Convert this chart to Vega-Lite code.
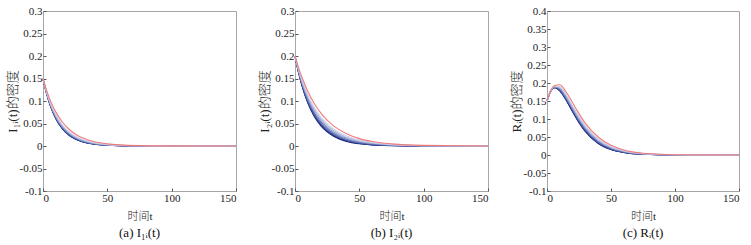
{
"$schema": "https://vega.github.io/schema/vega-lite/v6.json",
"background": "white",
"padding": {"left": 5, "top": 4, "right": 4, "bottom": 2},
"spacing": 59,
"bounds": "flush",
"config": {
 "locale": {"number": {"decimal": ".", "thousands": ",", "grouping": [3], "currency": ["$", ""], "minus": "-"}},
 "view": {"stroke": "#a6a6a6", "strokeWidth": 1},
 "axis": {"grid": false, "domain": false, "tickColor": "#555", "tickSize": -3, "labelPadding": 4, "labelFont": "Liberation Serif", "labelFontSize": 11, "labelColor": "#222", "titleFont": "Liberation Serif, Noto Sans CJK SC", "titleFontWeight": 300, "titleColor": "#222", "titleFontSize": 12},
 "axisY": {"minExtent": 20, "maxExtent": 20, "titlePadding": 4, "titleFontSize": 13},
 "axisX": {"labelPadding": 4, "titlePadding": 7, "titleFontSize": 11},
 "title": {"font": "Liberation Serif", "fontSize": 13, "fontWeight": "normal", "color": "#111", "offset": 6},
 "line": {"strokeWidth": 1.1, "interpolate": "monotone"}
},
"datasets": {
"a": [
{"t":0,"c":"c1","v":0.15},{"t":3,"c":"c1","v":0.1142},{"t":6,"c":"c1","v":0.0869},{"t":10,"c":"c1","v":0.0604},{"t":15,"c":"c1","v":0.0384},{"t":20,"c":"c1","v":0.0243},{"t":25,"c":"c1","v":0.0155},{"t":30,"c":"c1","v":0.0098},{"t":40,"c":"c1","v":0.004},{"t":50,"c":"c1","v":0.0016},{"t":60,"c":"c1","v":0.0006},{"t":75,"c":"c1","v":0.0002},{"t":100,"c":"c1","v":0},{"t":150,"c":"c1","v":0},
{"t":0,"c":"c2","v":0.15},{"t":3,"c":"c2","v":0.1145},{"t":6,"c":"c2","v":0.0874},{"t":10,"c":"c2","v":0.061},{"t":15,"c":"c2","v":0.039},{"t":20,"c":"c2","v":0.0248},{"t":25,"c":"c2","v":0.0159},{"t":30,"c":"c2","v":0.0102},{"t":40,"c":"c2","v":0.0042},{"t":50,"c":"c2","v":0.0017},{"t":60,"c":"c2","v":0.0007},{"t":75,"c":"c2","v":0.0002},{"t":100,"c":"c2","v":0},{"t":150,"c":"c2","v":0},
{"t":0,"c":"c3","v":0.15},{"t":3,"c":"c3","v":0.1149},{"t":6,"c":"c3","v":0.088},{"t":10,"c":"c3","v":0.0617},{"t":15,"c":"c3","v":0.0397},{"t":20,"c":"c3","v":0.0255},{"t":25,"c":"c3","v":0.0165},{"t":30,"c":"c3","v":0.0106},{"t":40,"c":"c3","v":0.0045},{"t":50,"c":"c3","v":0.0019},{"t":60,"c":"c3","v":0.0008},{"t":75,"c":"c3","v":0.0003},{"t":100,"c":"c3","v":0},{"t":150,"c":"c3","v":0},
{"t":0,"c":"c4","v":0.15},{"t":3,"c":"c4","v":0.1154},{"t":6,"c":"c4","v":0.0887},{"t":10,"c":"c4","v":0.0626},{"t":15,"c":"c4","v":0.0406},{"t":20,"c":"c4","v":0.0263},{"t":25,"c":"c4","v":0.0172},{"t":30,"c":"c4","v":0.0112},{"t":40,"c":"c4","v":0.0048},{"t":50,"c":"c4","v":0.0021},{"t":60,"c":"c4","v":0.0009},{"t":75,"c":"c4","v":0.0003},{"t":100,"c":"c4","v":0},{"t":150,"c":"c4","v":0},
{"t":0,"c":"c5","v":0.15},{"t":3,"c":"c5","v":0.116},{"t":6,"c":"c5","v":0.0897},{"t":10,"c":"c5","v":0.0638},{"t":15,"c":"c5","v":0.0418},{"t":20,"c":"c5","v":0.0274},{"t":25,"c":"c5","v":0.0181},{"t":30,"c":"c5","v":0.0119},{"t":40,"c":"c5","v":0.0053},{"t":50,"c":"c5","v":0.0023},{"t":60,"c":"c5","v":0.001},{"t":75,"c":"c5","v":0.0004},{"t":100,"c":"c5","v":0},{"t":150,"c":"c5","v":0},
{"t":0,"c":"c6","v":0.15},{"t":3,"c":"c6","v":0.1168},{"t":6,"c":"c6","v":0.091},{"t":10,"c":"c6","v":0.0653},{"t":15,"c":"c6","v":0.0433},{"t":20,"c":"c6","v":0.0288},{"t":25,"c":"c6","v":0.0192},{"t":30,"c":"c6","v":0.0128},{"t":40,"c":"c6","v":0.0058},{"t":50,"c":"c6","v":0.0027},{"t":60,"c":"c6","v":0.0012},{"t":75,"c":"c6","v":0.0004},{"t":100,"c":"c6","v":0.0001},{"t":150,"c":"c6","v":0},
{"t":0,"c":"c7","v":0.15},{"t":3,"c":"c7","v":0.1177},{"t":6,"c":"c7","v":0.0924},{"t":10,"c":"c7","v":0.0671},{"t":15,"c":"c7","v":0.0451},{"t":20,"c":"c7","v":0.0304},{"t":25,"c":"c7","v":0.0205},{"t":30,"c":"c7","v":0.0139},{"t":40,"c":"c7","v":0.0065},{"t":50,"c":"c7","v":0.003},{"t":60,"c":"c7","v":0.0014},{"t":75,"c":"c7","v":0.0005},{"t":100,"c":"c7","v":0.0001},{"t":150,"c":"c7","v":0},
{"t":0,"c":"c8","v":0.15},{"t":3,"c":"c8","v":0.1189},{"t":6,"c":"c8","v":0.0943},{"t":10,"c":"c8","v":0.0693},{"t":15,"c":"c8","v":0.0473},{"t":20,"c":"c8","v":0.0324},{"t":25,"c":"c8","v":0.0222},{"t":30,"c":"c8","v":0.0153},{"t":40,"c":"c8","v":0.0073},{"t":50,"c":"c8","v":0.0035},{"t":60,"c":"c8","v":0.0017},{"t":75,"c":"c8","v":0.0006},{"t":100,"c":"c8","v":0.0001},{"t":150,"c":"c8","v":0},
{"t":0,"c":"red","v":0.15},{"t":3,"c":"red","v":0.122},{"t":6,"c":"red","v":0.0992},{"t":10,"c":"red","v":0.0753},{"t":15,"c":"red","v":0.0533},{"t":20,"c":"red","v":0.0378},{"t":25,"c":"red","v":0.0267},{"t":30,"c":"red","v":0.0189},{"t":40,"c":"red","v":0.0095},{"t":50,"c":"red","v":0.0048},{"t":60,"c":"red","v":0.0024},{"t":75,"c":"red","v":0.0009},{"t":100,"c":"red","v":0.0002},{"t":150,"c":"red","v":0}
],
"b": [
{"t":0,"c":"c1","v":0.2},{"t":3,"c":"c1","v":0.1601},{"t":6,"c":"c1","v":0.1282},{"t":10,"c":"c1","v":0.0954},{"t":15,"c":"c1","v":0.0658},{"t":20,"c":"c1","v":0.0455},{"t":25,"c":"c1","v":0.0314},{"t":30,"c":"c1","v":0.0217},{"t":40,"c":"c1","v":0.0103},{"t":50,"c":"c1","v":0.0049},{"t":60,"c":"c1","v":0.0023},{"t":75,"c":"c1","v":0.0008},{"t":100,"c":"c1","v":0.0001},{"t":150,"c":"c1","v":0},
{"t":0,"c":"c2","v":0.2},{"t":3,"c":"c2","v":0.1607},{"t":6,"c":"c2","v":0.1292},{"t":10,"c":"c2","v":0.0967},{"t":15,"c":"c2","v":0.0672},{"t":20,"c":"c2","v":0.0469},{"t":25,"c":"c2","v":0.0327},{"t":30,"c":"c2","v":0.0228},{"t":40,"c":"c2","v":0.0111},{"t":50,"c":"c2","v":0.0055},{"t":60,"c":"c2","v":0.0027},{"t":75,"c":"c2","v":0.001},{"t":100,"c":"c2","v":0.0002},{"t":150,"c":"c2","v":0},
{"t":0,"c":"c3","v":0.2},{"t":3,"c":"c3","v":0.1614},{"t":6,"c":"c3","v":0.1304},{"t":10,"c":"c3","v":0.0982},{"t":15,"c":"c3","v":0.069},{"t":20,"c":"c3","v":0.0486},{"t":25,"c":"c3","v":0.0342},{"t":30,"c":"c3","v":0.0242},{"t":40,"c":"c3","v":0.0121},{"t":50,"c":"c3","v":0.0062},{"t":60,"c":"c3","v":0.0031},{"t":75,"c":"c3","v":0.0012},{"t":100,"c":"c3","v":0.0002},{"t":150,"c":"c3","v":0},
{"t":0,"c":"c4","v":0.2},{"t":3,"c":"c4","v":0.1624},{"t":6,"c":"c4","v":0.132},{"t":10,"c":"c4","v":0.1003},{"t":15,"c":"c4","v":0.0713},{"t":20,"c":"c4","v":0.0508},{"t":25,"c":"c4","v":0.0363},{"t":30,"c":"c4","v":0.0261},{"t":40,"c":"c4","v":0.0135},{"t":50,"c":"c4","v":0.0071},{"t":60,"c":"c4","v":0.0038},{"t":75,"c":"c4","v":0.0015},{"t":100,"c":"c4","v":0.0003},{"t":150,"c":"c4","v":0},
{"t":0,"c":"c5","v":0.2},{"t":3,"c":"c5","v":0.1636},{"t":6,"c":"c5","v":0.134},{"t":10,"c":"c5","v":0.1029},{"t":15,"c":"c5","v":0.0741},{"t":20,"c":"c5","v":0.0536},{"t":25,"c":"c5","v":0.0389},{"t":30,"c":"c5","v":0.0283},{"t":40,"c":"c5","v":0.0152},{"t":50,"c":"c5","v":0.0082},{"t":60,"c":"c5","v":0.0045},{"t":75,"c":"c5","v":0.0019},{"t":100,"c":"c5","v":0.0004},{"t":150,"c":"c5","v":0},
{"t":0,"c":"c6","v":0.2},{"t":3,"c":"c6","v":0.165},{"t":6,"c":"c6","v":0.1364},{"t":10,"c":"c6","v":0.106},{"t":15,"c":"c6","v":0.0776},{"t":20,"c":"c6","v":0.057},{"t":25,"c":"c6","v":0.042},{"t":30,"c":"c6","v":0.0311},{"t":40,"c":"c6","v":0.0172},{"t":50,"c":"c6","v":0.0096},{"t":60,"c":"c6","v":0.0055},{"t":75,"c":"c6","v":0.0024},{"t":100,"c":"c6","v":0.0006},{"t":150,"c":"c6","v":0},
{"t":0,"c":"c7","v":0.2},{"t":3,"c":"c7","v":0.1667},{"t":6,"c":"c7","v":0.1392},{"t":10,"c":"c7","v":0.1096},{"t":15,"c":"c7","v":0.0816},{"t":20,"c":"c7","v":0.061},{"t":25,"c":"c7","v":0.0456},{"t":30,"c":"c7","v":0.0343},{"t":40,"c":"c7","v":0.0195},{"t":50,"c":"c7","v":0.0112},{"t":60,"c":"c7","v":0.0065},{"t":75,"c":"c7","v":0.0029},{"t":100,"c":"c7","v":0.0008},{"t":150,"c":"c7","v":0.0001},
{"t":0,"c":"c8","v":0.2},{"t":3,"c":"c8","v":0.1685},{"t":6,"c":"c8","v":0.1422},{"t":10,"c":"c8","v":0.1135},{"t":15,"c":"c8","v":0.0859},{"t":20,"c":"c8","v":0.0652},{"t":25,"c":"c8","v":0.0495},{"t":30,"c":"c8","v":0.0377},{"t":40,"c":"c8","v":0.0221},{"t":50,"c":"c8","v":0.013},{"t":60,"c":"c8","v":0.0077},{"t":75,"c":"c8","v":0.0035},{"t":100,"c":"c8","v":0.0009},{"t":150,"c":"c8","v":0.0001},
{"t":0,"c":"red","v":0.2},{"t":3,"c":"red","v":0.1721},{"t":6,"c":"red","v":0.1482},{"t":10,"c":"red","v":0.1213},{"t":15,"c":"red","v":0.0945},{"t":20,"c":"red","v":0.0736},{"t":25,"c":"red","v":0.0573},{"t":30,"c":"red","v":0.0446},{"t":40,"c":"red","v":0.0271},{"t":50,"c":"red","v":0.0164},{"t":60,"c":"red","v":0.01},{"t":75,"c":"red","v":0.0047},{"t":100,"c":"red","v":0.0013},{"t":150,"c":"red","v":0.0001}
],
"c": [
{"t":0,"c":"c1","v":0.15},{"t":3,"c":"c1","v":0.178},{"t":6,"c":"c1","v":0.187},{"t":10,"c":"c1","v":0.178},{"t":15,"c":"c1","v":0.152},{"t":20,"c":"c1","v":0.12},{"t":25,"c":"c1","v":0.09},{"t":30,"c":"c1","v":0.065},{"t":40,"c":"c1","v":0.032},{"t":50,"c":"c1","v":0.015},{"t":60,"c":"c1","v":0.007},{"t":75,"c":"c1","v":0.002},{"t":100,"c":"c1","v":0.0003},{"t":150,"c":"c1","v":0},
{"t":0,"c":"c2","v":0.15},{"t":3,"c":"c2","v":0.178},{"t":6,"c":"c2","v":0.1873},{"t":10,"c":"c2","v":0.1789},{"t":15,"c":"c2","v":0.1532},{"t":20,"c":"c2","v":0.1213},{"t":25,"c":"c2","v":0.0913},{"t":30,"c":"c2","v":0.0662},{"t":40,"c":"c2","v":0.0329},{"t":50,"c":"c2","v":0.0156},{"t":60,"c":"c2","v":0.0074},{"t":75,"c":"c2","v":0.0022},{"t":100,"c":"c2","v":0.0003},{"t":150,"c":"c2","v":0},
{"t":0,"c":"c3","v":0.15},{"t":3,"c":"c3","v":0.1781},{"t":6,"c":"c3","v":0.1877},{"t":10,"c":"c3","v":0.1799},{"t":15,"c":"c3","v":0.1545},{"t":20,"c":"c3","v":0.1228},{"t":25,"c":"c3","v":0.0928},{"t":30,"c":"c3","v":0.0675},{"t":40,"c":"c3","v":0.034},{"t":50,"c":"c3","v":0.0163},{"t":60,"c":"c3","v":0.0078},{"t":75,"c":"c3","v":0.0023},{"t":100,"c":"c3","v":0.0004},{"t":150,"c":"c3","v":0},
{"t":0,"c":"c4","v":0.15},{"t":3,"c":"c4","v":0.1782},{"t":6,"c":"c4","v":0.1881},{"t":10,"c":"c4","v":0.1812},{"t":15,"c":"c4","v":0.1564},{"t":20,"c":"c4","v":0.1248},{"t":25,"c":"c4","v":0.0948},{"t":30,"c":"c4","v":0.0694},{"t":40,"c":"c4","v":0.0354},{"t":50,"c":"c4","v":0.0173},{"t":60,"c":"c4","v":0.0083},{"t":75,"c":"c4","v":0.0026},{"t":100,"c":"c4","v":0.0004},{"t":150,"c":"c4","v":0},
{"t":0,"c":"c5","v":0.15},{"t":3,"c":"c5","v":0.1783},{"t":6,"c":"c5","v":0.1887},{"t":10,"c":"c5","v":0.1829},{"t":15,"c":"c5","v":0.1587},{"t":20,"c":"c5","v":0.1273},{"t":25,"c":"c5","v":0.0973},{"t":30,"c":"c5","v":0.0717},{"t":40,"c":"c5","v":0.0372},{"t":50,"c":"c5","v":0.0185},{"t":60,"c":"c5","v":0.009},{"t":75,"c":"c5","v":0.0029},{"t":100,"c":"c5","v":0.0004},{"t":150,"c":"c5","v":0},
{"t":0,"c":"c6","v":0.15},{"t":3,"c":"c6","v":0.1784},{"t":6,"c":"c6","v":0.1895},{"t":10,"c":"c6","v":0.185},{"t":15,"c":"c6","v":0.1614},{"t":20,"c":"c6","v":0.1303},{"t":25,"c":"c6","v":0.1003},{"t":30,"c":"c6","v":0.0744},{"t":40,"c":"c6","v":0.0394},{"t":50,"c":"c6","v":0.0199},{"t":60,"c":"c6","v":0.0099},{"t":75,"c":"c6","v":0.0032},{"t":100,"c":"c6","v":0.0005},{"t":150,"c":"c6","v":0},
{"t":0,"c":"c7","v":0.15},{"t":3,"c":"c7","v":0.1786},{"t":6,"c":"c7","v":0.1903},{"t":10,"c":"c7","v":0.1874},{"t":15,"c":"c7","v":0.1647},{"t":20,"c":"c7","v":0.1338},{"t":25,"c":"c7","v":0.1038},{"t":30,"c":"c7","v":0.0777},{"t":40,"c":"c7","v":0.0419},{"t":50,"c":"c7","v":0.0216},{"t":60,"c":"c7","v":0.0109},{"t":75,"c":"c7","v":0.0037},{"t":100,"c":"c7","v":0.0006},{"t":150,"c":"c7","v":0},
{"t":0,"c":"c8","v":0.15},{"t":3,"c":"c8","v":0.1787},{"t":6,"c":"c8","v":0.1912},{"t":10,"c":"c8","v":0.1899},{"t":15,"c":"c8","v":0.1681},{"t":20,"c":"c8","v":0.137},{"t":25,"c":"c8","v":0.1075},{"t":30,"c":"c8","v":0.0811},{"t":40,"c":"c8","v":0.0446},{"t":50,"c":"c8","v":0.0234},{"t":60,"c":"c8","v":0.0119},{"t":75,"c":"c8","v":0.0041},{"t":100,"c":"c8","v":0.0007},{"t":150,"c":"c8","v":0},
{"t":0,"c":"red","v":0.15},{"t":3,"c":"red","v":0.179},{"t":6,"c":"red","v":0.193},{"t":10,"c":"red","v":0.195},{"t":15,"c":"red","v":0.175},{"t":20,"c":"red","v":0.145},{"t":25,"c":"red","v":0.115},{"t":30,"c":"red","v":0.088},{"t":40,"c":"red","v":0.05},{"t":50,"c":"red","v":0.027},{"t":60,"c":"red","v":0.014},{"t":75,"c":"red","v":0.005},{"t":100,"c":"red","v":0.0008},{"t":150,"c":"red","v":0}
]
},
"hconcat": [
{
 "width": 193, "height": 180,
 "data": {"name": "a"},
 "title": {"text": "(a) I₁ᵢ(t)", "orient": "bottom"},
 "mark": {"type": "line"},
 "encoding": {
  "x": {"field": "t", "type": "quantitative", "scale": {"domain": [0, 150], "nice": false}, "axis": {"values": [0, 50, 100, 150], "title": "时间t"}},
  "y": {"field": "v", "type": "quantitative", "scale": {"domain": [-0.1, 0.3], "nice": false}, "axis": {"values": [-0.1, -0.05, 0, 0.05, 0.1, 0.15, 0.2, 0.25, 0.3], "format": "~g", "title": "I₁ᵢ(t)的密度"}},
  "color": {"field": "c", "type": "nominal", "legend": null, "scale": {"domain": ["c1","c2","c3","c4","c5","c6","c7","c8","red"], "range": ["#18226e","#213088","#334498","#4c5daa","#6a7aba","#8d9acb","#afb8dc","#ccd2ea","#f07a7a"]}}
 }
},
{
 "width": 193, "height": 180,
 "data": {"name": "b"},
 "title": {"text": "(b) I₂ᵢ(t)", "orient": "bottom"},
 "mark": {"type": "line"},
 "encoding": {
  "x": {"field": "t", "type": "quantitative", "scale": {"domain": [0, 150], "nice": false}, "axis": {"values": [0, 50, 100, 150], "title": "时间t"}},
  "y": {"field": "v", "type": "quantitative", "scale": {"domain": [-0.1, 0.3], "nice": false}, "axis": {"values": [-0.1, -0.05, 0, 0.05, 0.1, 0.15, 0.2, 0.25, 0.3], "format": "~g", "title": "I₂ᵢ(t)的密度"}},
  "color": {"field": "c", "type": "nominal", "legend": null, "scale": {"domain": ["c1","c2","c3","c4","c5","c6","c7","c8","red"], "range": ["#18226e","#213088","#334498","#4c5daa","#6a7aba","#8d9acb","#afb8dc","#ccd2ea","#f07a7a"]}}
 }
},
{
 "width": 192, "height": 180,
 "data": {"name": "c"},
 "title": {"text": "(c) Rᵢ(t)", "orient": "bottom"},
 "mark": {"type": "line"},
 "encoding": {
  "x": {"field": "t", "type": "quantitative", "scale": {"domain": [0, 150], "nice": false}, "axis": {"values": [0, 50, 100, 150], "title": "时间t"}},
  "y": {"field": "v", "type": "quantitative", "scale": {"domain": [-0.1, 0.4], "nice": false}, "axis": {"values": [-0.1, -0.05, 0, 0.05, 0.1, 0.15, 0.2, 0.25, 0.3, 0.35, 0.4], "format": "~g", "title": "Rᵢ(t)的密度"}},
  "color": {"field": "c", "type": "nominal", "legend": null, "scale": {"domain": ["c1","c2","c3","c4","c5","c6","c7","c8","red"], "range": ["#18226e","#213088","#334498","#4c5daa","#6a7aba","#8d9acb","#afb8dc","#ccd2ea","#f07a7a"]}}
 }
}
]
}
